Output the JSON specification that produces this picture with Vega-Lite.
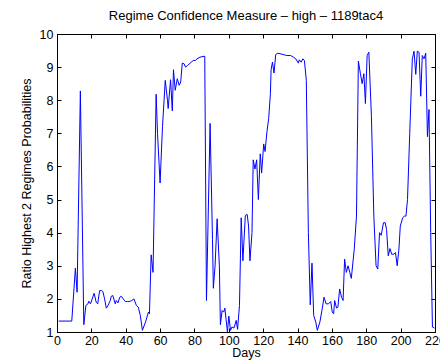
{
  "$schema": "https://vega.github.io/schema/vega-lite/v6.json",
  "width": 378,
  "height": 298,
  "autosize": {"type": "none"},
  "padding": {"left": 57, "top": 34, "right": 5, "bottom": 32},
  "background": "white",
  "title": {"text": "Regime Confidence Measure – high – 1189tac4", "font": "Liberation Sans", "fontSize": 13, "fontWeight": "normal", "color": "black", "offset": 5},
  "config": {
    "view": {"stroke": "black", "strokeWidth": 1},
    "axis": {"grid": false, "domain": true, "domainColor": "black", "tickColor": "black", "tickSize": -4, "labelFont": "Liberation Sans", "labelFontSize": 12.5, "labelColor": "black", "titleFont": "Liberation Sans", "titleFontSize": 12.5, "titleFontWeight": "normal", "titleColor": "black"}
  },
  "data": {"values": [
    {"day":1,"r":1.33},{"day":8.6,"r":1.33},{"day":10.7,"r":2.93},{"day":11.7,"r":2.2},{"day":13.6,"r":8.28},{"day":15.6,"r":1.22},{"day":16.8,"r":1.8},{"day":18,"r":1.85},{"day":18.5,"r":1.93},{"day":19.5,"r":1.85},{"day":21.6,"r":2.17},{"day":22.8,"r":1.9},{"day":23.7,"r":1.85},{"day":24.8,"r":2.25},{"day":26,"r":2.25},{"day":26.7,"r":2.22},{"day":27.7,"r":2.0},{"day":28.7,"r":1.72},{"day":29.7,"r":1.8},{"day":31,"r":1.95},{"day":31.6,"r":2.08},{"day":32.5,"r":2.1},{"day":33.9,"r":1.85},{"day":34.5,"r":1.95},{"day":35.5,"r":1.88},{"day":36.5,"r":2.05},{"day":37.5,"r":2.08},{"day":38.5,"r":2.0},{"day":39.8,"r":1.92},{"day":41,"r":1.92},{"day":42,"r":1.92},{"day":43.5,"r":1.95},{"day":44.8,"r":2.0},{"day":46.2,"r":1.8},{"day":47.3,"r":1.75},{"day":48.5,"r":1.5},{"day":49.7,"r":1.05},{"day":51.5,"r":1.3},{"day":53.2,"r":1.6},{"day":53.8,"r":1.55},{"day":54.8,"r":3.33},{"day":55.9,"r":2.8},{"day":57.7,"r":8.18},{"day":58.5,"r":7.0},{"day":60,"r":5.5},{"day":61.4,"r":7.2},{"day":63,"r":8.6},{"day":64.3,"r":8.0},{"day":64.7,"r":7.75},{"day":66.1,"r":8.62},{"day":67.1,"r":7.68},{"day":67.8,"r":8.92},{"day":68.8,"r":8.3},{"day":70,"r":8.65},{"day":71.1,"r":8.45},{"day":72,"r":8.55},{"day":72.9,"r":9.12},{"day":74,"r":9.1},{"day":74.8,"r":9.0},{"day":76,"r":9.05},{"day":77.5,"r":9.12},{"day":79.3,"r":9.2},{"day":80.5,"r":9.2},{"day":81.5,"r":9.25},{"day":83.2,"r":9.3},{"day":86,"r":9.33},{"day":87,"r":1.95},{"day":89.1,"r":7.3},{"day":90.5,"r":3.8},{"day":91,"r":2.32},{"day":92,"r":3.0},{"day":93.2,"r":4.42},{"day":94.5,"r":3.0},{"day":95.1,"r":1.22},{"day":96.1,"r":1.65},{"day":97,"r":1.6},{"day":97.7,"r":1.72},{"day":99.2,"r":1.0},{"day":100,"r":1.48},{"day":101,"r":1.05},{"day":101.8,"r":1.15},{"day":103,"r":1.12},{"day":104.3,"r":1.35},{"day":105.1,"r":1.08},{"day":106.2,"r":1.8},{"day":107.2,"r":4.45},{"day":108.2,"r":3.15},{"day":109.6,"r":4.52},{"day":110.7,"r":4.55},{"day":111.5,"r":4.2},{"day":112.3,"r":3.15},{"day":113.5,"r":4.0},{"day":114.2,"r":6.2},{"day":115.2,"r":5.92},{"day":116.2,"r":6.2},{"day":117.2,"r":5.0},{"day":118.3,"r":6.38},{"day":119.1,"r":5.8},{"day":120.3,"r":6.68},{"day":121.1,"r":6.45},{"day":122.2,"r":7.05},{"day":123.2,"r":7.45},{"day":124.2,"r":8.2},{"day":124.6,"r":8.92},{"day":125.4,"r":9.15},{"day":126.3,"r":8.82},{"day":127.3,"r":9.38},{"day":128.5,"r":9.42},{"day":131.6,"r":9.38},{"day":133.7,"r":9.35},{"day":136,"r":9.35},{"day":137.6,"r":9.3},{"day":139,"r":9.25},{"day":140.5,"r":9.12},{"day":141,"r":9.22},{"day":142.1,"r":9.15},{"day":143.1,"r":9.25},{"day":144,"r":9.2},{"day":145.1,"r":8.6},{"day":146.3,"r":4.0},{"day":147.4,"r":1.82},{"day":148.4,"r":3.08},{"day":149.4,"r":1.5},{"day":150.6,"r":1.3},{"day":151.5,"r":1.05},{"day":153,"r":1.3},{"day":154.2,"r":1.65},{"day":155.4,"r":2.05},{"day":156.6,"r":1.85},{"day":158,"r":1.85},{"day":159.3,"r":1.92},{"day":160.2,"r":1.6},{"day":161,"r":1.55},{"day":161.6,"r":1.95},{"day":162.7,"r":1.72},{"day":163.5,"r":1.75},{"day":164.5,"r":2.3},{"day":165.6,"r":2.05},{"day":166.5,"r":1.95},{"day":167.4,"r":3.2},{"day":168.4,"r":2.8},{"day":169.4,"r":3.0},{"day":170.4,"r":2.8},{"day":171.3,"r":2.62},{"day":173,"r":3.5},{"day":174.3,"r":4.5},{"day":175.4,"r":9.18},{"day":176.6,"r":8.8},{"day":177.6,"r":8.5},{"day":178.6,"r":8.8},{"day":179.5,"r":7.9},{"day":180.5,"r":9.35},{"day":181.5,"r":9.45},{"day":183,"r":7.5},{"day":184.4,"r":4.5},{"day":185.7,"r":3.0},{"day":186.7,"r":2.9},{"day":187.7,"r":4.0},{"day":188.7,"r":3.92},{"day":190,"r":4.3},{"day":191,"r":4.3},{"day":191.8,"r":4.1},{"day":192.8,"r":3.3},{"day":193.8,"r":3.52},{"day":194.8,"r":3.35},{"day":196.1,"r":3.35},{"day":197,"r":3.4},{"day":198,"r":3.0},{"day":199,"r":3.5},{"day":199.8,"r":4.2},{"day":201.2,"r":4.45},{"day":202.2,"r":4.5},{"day":203.1,"r":4.5},{"day":204,"r":5.0},{"day":205.3,"r":7.0},{"day":206.8,"r":9.25},{"day":207.8,"r":9.48},{"day":208.8,"r":8.78},{"day":209.7,"r":9.48},{"day":210.7,"r":9.45},{"day":211.7,"r":8.12},{"day":212.6,"r":9.35},{"day":213.6,"r":9.25},{"day":214.6,"r":9.42},{"day":215.6,"r":6.9},{"day":216.5,"r":7.72},{"day":217.5,"r":4.0},{"day":218.5,"r":1.15},{"day":219.7,"r":1.12}
  ]},
  "layer": [
    {
      "mark": {"type": "line", "color": "#0000ff", "strokeWidth": 1, "clip": true},
      "encoding": {
        "x": {"field": "day", "type": "quantitative", "scale": {"domain": [0, 220], "nice": false}, "axis": {"title": "Days", "values": [0,20,40,60,80,100,120,140,160,180,200,220], "labelPadding": 6, "titlePadding": 0, "labelFlush": false, "labelOverlap": false}},
        "y": {"field": "r", "type": "quantitative", "scale": {"domain": [1, 10], "nice": false, "zero": false}, "axis": {"title": "Ratio Highest 2 Regimes Probabilities", "values": [1,2,3,4,5,6,7,8,9,10], "labelPadding": 8, "titlePadding": 6, "labelFlush": false}}
      }
    },
    {
      "mark": {"type": "line", "strokeOpacity": 0},
      "encoding": {
        "x": {"field": "day", "type": "quantitative", "axis": {"orient": "top", "labels": false, "title": null, "values": [0,20,40,60,80,100,120,140,160,180,200,220]}},
        "y": {"field": "r", "type": "quantitative", "axis": {"orient": "right", "labels": false, "title": null, "values": [1,2,3,4,5,6,7,8,9,10]}}
      }
    }
  ],
  "resolve": {"axis": {"x": "independent", "y": "independent"}}
}
